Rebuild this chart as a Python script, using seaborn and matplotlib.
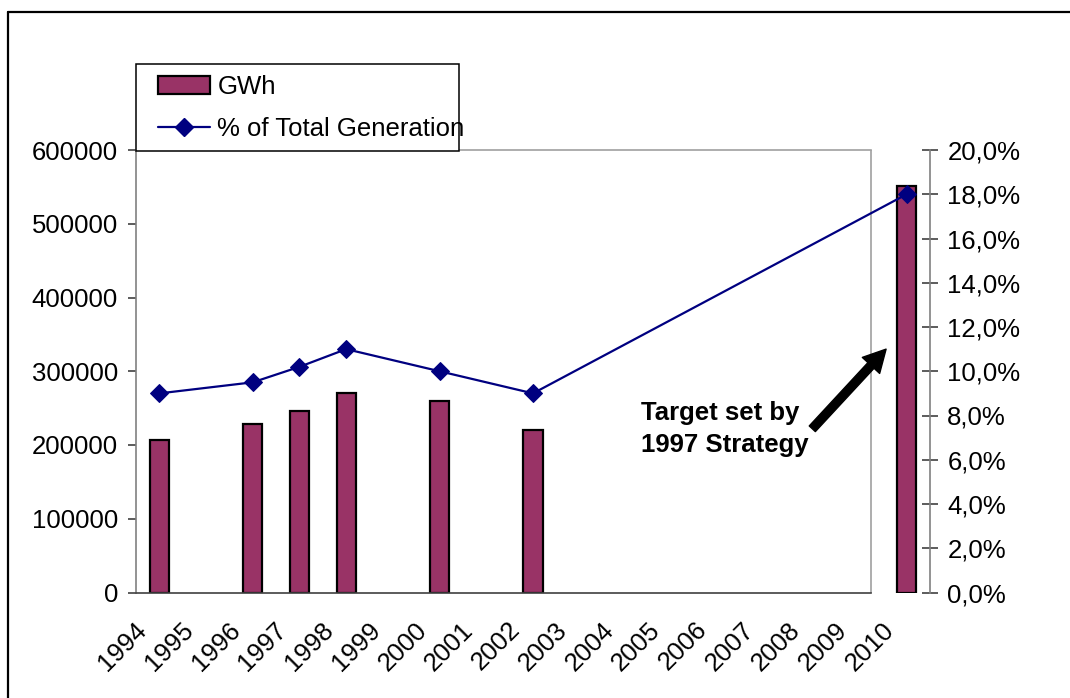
import numpy as np
import pandas as pd
import matplotlib
matplotlib.use("Agg")
import matplotlib.pyplot as plt
import matplotlib.transforms as mtransforms
from matplotlib.patches import Patch, Rectangle
from matplotlib.lines import Line2D
from matplotlib.ticker import FuncFormatter, FixedLocator
import seaborn as sns

# ---------------- data ----------------
all_years = ["1994", "1995", "1996", "1997", "1998", "1999", "2000", "2001", "2002",
             "2003", "2004", "2005", "2006", "2007", "2008", "2009", "2010"]
years = ["1994", "1996", "1997", "1998", "2000", "2002", "2010"]
gwh = [207000, 228000, 246500, 271000, 260000, 220000, 551000]
pct_total = [9.0, 9.5, 10.2, 11.0, 10.0, 9.0, 18.0]
left_ticks = [0, 100000, 200000, 300000, 400000, 500000, 600000]
right_ticks = [0, 2, 4, 6, 8, 10, 12, 14, 16, 18, 20]
bar_label = "GWh"
line_label = "% of Total Generation"
note_text = "Target set by\n1997 Strategy"

# ---------------- style ----------------
sns.set_style("white")
plt.rcParams["font.family"] = ["Liberation Sans", "DejaVu Sans"]
plt.rcParams["text.color"] = "black"
plt.rcParams["xtick.color"] = "black"
plt.rcParams["ytick.color"] = "black"
plt.rcParams["xtick.labelcolor"] = "black"
plt.rcParams["ytick.labelcolor"] = "black"
FS = 18.5
BAR_COLOR = "#993366"
LINE_COLOR = "#000080"
TICK_COLOR = "#303030"

W, H = 1070, 698
fig = plt.figure(figsize=(W / 100, H / 100), dpi=100)
fig.patch.set_facecolor("white")

x_left, x_right, y_top, y_bot = 136, 930, 150, 592.5
ax = fig.add_axes([x_left / W, (H - y_bot) / H, (x_right - x_left) / W, (y_bot - y_top) / H])

df_bar = pd.DataFrame({"year": years, "gwh": gwh})
sns.barplot(data=df_bar, x="year", y="gwh", order=all_years, color=BAR_COLOR,
            saturation=1, width=0.41, edgecolor="black", linewidth=1.6, ax=ax)

ax.set_xlim(-0.5, len(all_years) - 0.5)
ax.set_ylim(0, 600000)
ax.set_xlabel("")
ax.set_ylabel("")

# left axis
ax.yaxis.set_major_locator(FixedLocator(left_ticks))
ax.yaxis.set_major_formatter(FuncFormatter(lambda v, p: f"{int(v)}"))
ax.tick_params(axis="y", which="major", direction="out", length=6, width=1.1,
               color=TICK_COLOR, labelsize=FS, pad=7, labelcolor="black")

# x axis
ax.set_xticks(range(len(all_years)))
ax.set_xticklabels(all_years, rotation=45, ha="right", fontsize=FS, color="black")
ax.tick_params(axis="x", which="major", length=0, pad=18)
ax.set_xticks(np.arange(-0.5, len(all_years) - 1, 1.0), minor=True)
ax.tick_params(axis="x", which="minor", direction="inout", length=11.5, width=1.1, color=TICK_COLOR)
shift = mtransforms.ScaledTranslation(-8 / 100, 0, fig.dpi_scale_trans)
for lab in ax.get_xticklabels():
    lab.set_transform(lab.get_transform() + shift)

frame_right = -0.5 + (871 - x_left) / ((x_right - x_left) / len(all_years))
for s in ["left", "bottom", "top", "right"]:
    ax.spines[s].set_linewidth(1.2)
ax.spines["left"].set_color("#808080")
ax.spines["bottom"].set_color("#404040")
ax.spines["bottom"].set_bounds(-0.5, frame_right)
ax.spines["top"].set_color("#a0a0a0")
ax.spines["top"].set_bounds(-0.5, frame_right)
ax.spines["right"].set_visible(False)
ax.axvline(frame_right, color="#a0a0a0", lw=1.2, zorder=0.5)

# right axis with line
ax2 = ax.twinx()
pos = [all_years.index(y) for y in years]
df_line = pd.DataFrame({"pos": pos, "pct": pct_total})
sns.lineplot(data=df_line, x="pos", y="pct", ax=ax2, color=LINE_COLOR, linewidth=1.6,
             marker="D", markersize=9, markeredgecolor=LINE_COLOR, markerfacecolor=LINE_COLOR,
             legend=False)
ax2.set_ylim(0, 20)
ax2.set_xlim(-0.5, len(all_years) - 0.5)
ax2.set_xlabel("")
ax2.set_ylabel("")
ax2.yaxis.set_major_locator(FixedLocator(right_ticks))
ax2.yaxis.set_major_formatter(FuncFormatter(lambda v, p: f"{v:.1f}%".replace(".", ",")))
ax2.tick_params(axis="y", which="major", direction="inout", length=11, width=1.1,
                color=TICK_COLOR, labelsize=FS, pad=7, right=True, labelright=True,
                labelcolor="black")
for s in ["left", "bottom", "top"]:
    ax2.spines[s].set_visible(False)
ax2.spines["right"].set_color("#808080")
ax2.spines["right"].set_linewidth(1.2)

# annotation
ax.annotate("", xy=(15.56, 330000), xytext=(13.98, 222000), xycoords="data",
            arrowprops=dict(facecolor="black", edgecolor="black", width=6, headwidth=17,
                            headlength=16, shrink=0))
ax.text(10.31, 259000, note_text, fontsize=FS, fontweight="bold", va="top", ha="left",
        linespacing=1.38, color="black")

# legend
fig.patches.append(Rectangle((136 / W, 1 - 151 / H), (459 - 136) / W, (151 - 64) / H,
                             transform=fig.transFigure, facecolor="white", edgecolor="black",
                             linewidth=1.1, zorder=4))
handles = [Patch(facecolor=BAR_COLOR, edgecolor="black", linewidth=1.6),
           Line2D([], [], color=LINE_COLOR, lw=1.6, marker="D", markersize=9)]
leg = fig.legend(handles, [bar_label, line_label], loc="upper left",
                 bbox_to_anchor=(148 / W, 1 - 65 / H), frameon=False, fontsize=FS,
                 handlelength=2.0, handleheight=0.7, handletextpad=0.3, labelspacing=0.68,
                 borderpad=0.4, borderaxespad=0)
for t in leg.get_texts():
    t.set_color("black")
leg.set_zorder(5)

# outer border
fig.add_artist(Line2D([8 / W, 8 / W], [0, 1 - 12 / H], transform=fig.transFigure, color="black", lw=1.6))
fig.add_artist(Line2D([8 / W, 1], [1 - 12 / H, 1 - 12 / H], transform=fig.transFigure, color="black", lw=1.6))

fig.savefig("out.png", dpi=100)
